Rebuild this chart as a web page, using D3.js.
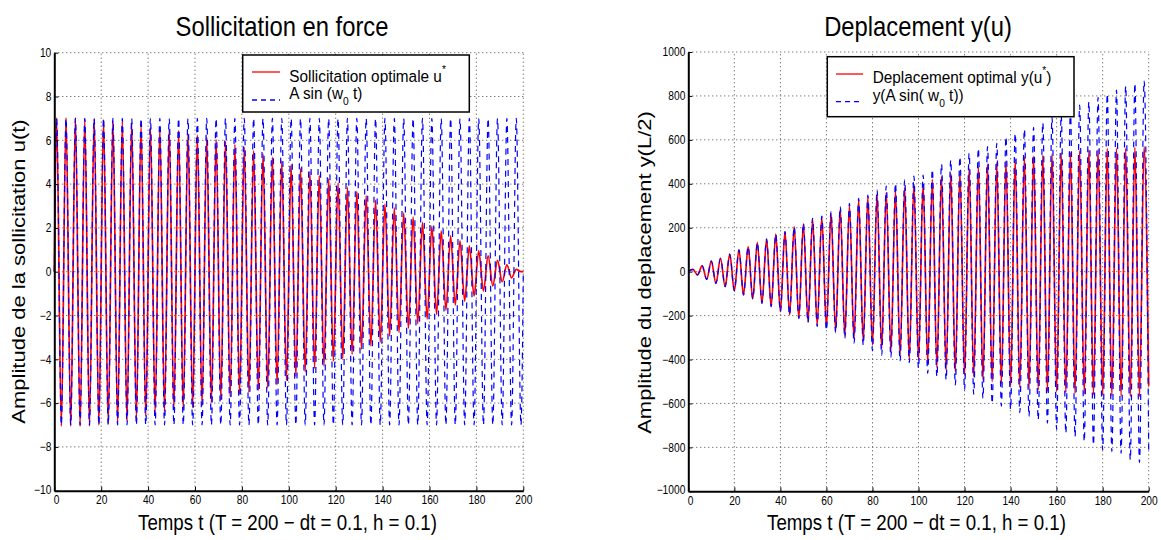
<!DOCTYPE html>
<html><head><meta charset="utf-8">
<script src="https://cdn.jsdelivr.net/npm/d3@7"></script>
<style>
html,body{margin:0;padding:0;background:#fff;}
text{font-family:"Liberation Sans",Arial,Helvetica,sans-serif;fill:#000;}
</style></head>
<body><svg id="fig" width="1161" height="540"></svg>
<script>
// ---------- DATA ----------
// Left panel: extrema of u*(t) and of A sin(w0 t), t in [0,200]
const leftPeakTimes   = d3.range(1, 200, 4);   // 1,5,...,197
const leftTroughTimes = d3.range(3, 200, 4);   // 3,7,...,199
const leftOptPeaks = [7.03,7.03,7.03,6.98,6.98,6.95,6.91,6.88,6.80,6.73,
  6.60,6.57,6.50,6.45,6.33,6.25,6.15,6.04,5.95,5.81,
  5.69,5.53,5.38,5.23,5.05,4.89,4.72,4.57,4.39,4.24,
  4.04,3.85,3.67,3.47,3.27,3.09,2.91,2.69,2.51,2.25,
  2.08,1.87,1.64,1.41,1.18,0.95,0.72,0.52,0.31,0.11];
const leftOptTroughs = [-7.05,-7.05,-7.05,-7.05,-7.00,-6.94,-6.90,-6.82,-6.70,-6.59,
  -6.48,-6.39,-6.28,-6.24,-6.21,-6.13,-5.98,-5.87,-5.72,-5.60,
  -5.52,-5.42,-5.30,-5.16,-4.97,-4.78,-4.57,-4.41,-4.31,-4.08,
  -3.96,-3.77,-3.54,-3.39,-3.20,-2.94,-2.78,-2.59,-2.37,-2.17,
  -1.95,-1.76,-1.52,-1.34,-1.11,-0.88,-0.65,-0.46,-0.28,0.00];
const leftRefPeaks = [7,7,7,7,7,7,7,7,7,7, 7,7,7,7,7,7,7,7,7,7, 7,7,7,7,7,7,7,7,7,7,
  7,7,7,7,7,7,7,7,7,7, 7,7,7,7,7,7,7,7,7,7];
const leftRefTroughs = [-7,-7,-7,-7,-7,-7,-7,-7,-7,-7, -7,-7,-7,-7,-7,-7,-7,-7,-7,-7,
  -7,-7,-7,-7,-7,-7,-7,-7,-7,-7, -7,-7,-7,-7,-7,-7,-7,-7,-7,-7, -7,-7,-7,-7,-7,-7,-7,-7,-7,-7];

// Right panel: extrema of the mid-span displacement y(L/2)
const rightPeakTimes   = d3.range(2, 200, 4);  // 2,6,...,198
const rightTroughTimes = d3.range(4, 201, 4);  // 4,8,...,200
const rightOptPeaks = [10,26,48,61,80,99,114,133,148,171,
  182,205,218,238,248,265,285,300,327,340,
  354,360,369,382,399,402,420,432,447,455,
  470,478,488,496,505,511,523,526,531,535,
  542,543,551,554,557,561,561,561,566,569];
const rightOptTroughs = [-15,-35,-53,-68,-87,-106,-124,-144,-159,-182,
  -197,-213,-228,-243,-255,-270,-290,-305,-318,-335,
  -350,-364,-380,-398,-405,-417,-436,-448,-455,-470,
  -478,-493,-501,-511,-520,-527,-534,-539,-546,-546,
  -551,-554,-557,-561,-561,-566,-566,-569,-569,-520];
const rightRefPeaks = [10,26,48,61,80,99,114,133,148,171,
  182,205,220,243,253,273,296,311,334,349,
  372,390,402,418,435,440,466,490,508,523,
  539,561,569,584,614,630,648,657,678,702,
  712,735,758,773,793,809,827,845,857,869];
const rightRefTroughs = [-15,-35,-53,-68,-87,-106,-124,-144,-159,-182,
  -197,-213,-232,-250,-266,-278,-304,-326,-334,-360,
  -380,-390,-408,-414,-440,-463,-478,-493,-516,-539,
  -558,-577,-600,-612,-627,-642,-660,-675,-690,-718,
  -736,-751,-774,-789,-812,-819,-827,-857,-869,-820];

const xTicks = [0,20,40,60,80,100,120,140,160,180,200];
const leftYTicks = [-10,-8,-6,-4,-2,0,2,4,6,8,10];
const rightYTicks = [-1000,-800,-600,-400,-200,0,200,400,600,800,1000];

const titles = ["Sollicitation en force", "Deplacement y(u)"];
const xLabel = "Temps t (T = 200 \u2212 dt = 0.1, h = 0.1)";
const yLabels = ["Amplitude de la sollicitation u(t)", "Amplitude du deplacement y(L/2)"];

// ---------- DRAW ----------
const svg = d3.select("#fig");
svg.append("rect").attr("width",1161).attr("height",540).attr("fill","#fff");
const SQ = 0.85;
const LSQ = 0.93;

function squeeze(sel){
  sel.each(function(){
    const w = this.getComputedTextLength();
    this.setAttribute("textLength", (w*SQ).toFixed(2));
    this.setAttribute("lengthAdjust","spacingAndGlyphs");
  });
}
function fmt(v){ return v < 0 ? "\u2212" + Math.abs(v) : String(v); }

function series(peakT, peakV, troughT, troughV, endPoint){
  const pts = [[0,0]];
  peakT.forEach((t,i)=>pts.push([t, peakV[i]]));
  troughT.forEach((t,i)=>pts.push([t, troughV[i]]));
  if (endPoint) pts.push(endPoint);
  pts.sort((a,b)=>a[0]-b[0]);
  return pts;
}

function panel(cfg){
  const x = d3.scaleLinear().domain([0,200]).range([cfg.x0, cfg.x1]);
  const y = d3.scaleLinear().domain(cfg.yDomain).range([cfg.yBot, cfg.yTop]);
  const g = svg.append("g");

  // grid
  const grid = g.append("g").attr("stroke","#444").attr("stroke-width",1)
     .attr("stroke-dasharray","1,3");
  cfg.xTicks.filter(v=>v!==0).forEach(v=>{
    grid.append("line").attr("x1",x(v)).attr("x2",x(v)).attr("y1",cfg.yBot).attr("y2",cfg.yTop);
  });
  cfg.yTicks.filter(v=>v!==cfg.yDomain[0]).forEach(v=>{
    grid.append("line").attr("x1",cfg.x0).attr("x2",cfg.x1).attr("y1",y(v)).attr("y2",y(v));
  });

  // lines
  const line = d3.line().x(d=>x(d[0])).y(d=>y(d[1])).curve(d3.curveMonotoneX);
  g.append("path").datum(cfg.opt).attr("d",line).attr("fill","none")
    .attr("stroke","#ff0000").attr("stroke-width",1.7);
  g.append("path").datum(cfg.ref).attr("d",line).attr("fill","none")
    .attr("stroke","#0000ff").attr("stroke-width",1.2).attr("stroke-dasharray","6,5");

  // axes
  const ax = g.append("g").attr("transform",`translate(0,${cfg.yBot})`)
    .call(d3.axisBottom(x).tickValues(cfg.xTicks).tickSizeInner(-4).tickSizeOuter(0).tickPadding(5).tickFormat(fmt));
  const ay = g.append("g").attr("transform",`translate(${cfg.x0},0)`)
    .call(d3.axisLeft(y).tickValues(cfg.yTicks).tickSizeInner(-4).tickSizeOuter(0).tickPadding(3).tickFormat(fmt));
  [ax, ay].forEach(a=>{
    a.select(".domain").attr("stroke","#000").attr("stroke-width",2);
    a.selectAll(".tick line").attr("stroke","#000").attr("stroke-width",1);
    a.selectAll(".tick text").attr("font-size",12)
      .attr("font-family","Liberation Sans, Arial, sans-serif").attr("fill","#000");
    squeeze(a.selectAll(".tick text"));
  });
  ax.selectAll(".tick text").filter(d=>d===0).attr("dx","0.15em");
  ay.selectAll(".tick text").filter(d=>d===cfg.yDomain[0]).attr("dy","0.2em");

  // title
  svg.append("g").attr("transform",`translate(${cfg.titleX},36) scale(${SQ},1)`)
    .append("text").attr("text-anchor","middle").attr("font-size",28).text(cfg.title);
  // x label
  svg.append("g").attr("transform",`translate(${cfg.xLabelX},530) scale(${SQ},1)`)
    .append("text").attr("text-anchor","middle").attr("font-size",22).text(xLabel);
  // y label
  svg.append("g").attr("transform",`translate(${cfg.yLabelX},${cfg.yLabelY}) rotate(-90) scale(1,${SQ})`)
    .append("text").attr("text-anchor","middle").attr("font-size",22).text(cfg.yLabel);

  // legend
  const L = cfg.legend;
  svg.append("rect").attr("x",L.x).attr("y",L.y).attr("width",L.w).attr("height",L.h)
    .attr("fill","#fff").attr("stroke","#000").attr("stroke-width",1.5);
  svg.append("line").attr("x1",L.lx0).attr("x2",L.lx1).attr("y1",L.ly1).attr("y2",L.ly1)
    .attr("stroke","#ff0000").attr("stroke-width",1.3);
  svg.append("line").attr("x1",L.lx0).attr("x2",L.lx1).attr("y1",L.ly2).attr("y2",L.ly2)
    .attr("stroke","#0000ff").attr("stroke-width",1.3).attr("stroke-dasharray","5,4");
  const t1 = svg.append("g").attr("transform",`translate(${L.tx},${L.b1}) scale(${LSQ},1)`)
    .append("text").attr("font-size",16.5);
  t1.append("tspan").text(L.line1[0]);
  t1.append("tspan").attr("font-size",11).attr("dy",-9).text("*");
  if (L.line1[1]) t1.append("tspan").attr("dy",9).text(L.line1[1]);
  const t2 = svg.append("g").attr("transform",`translate(${L.tx},${L.b2}) scale(${LSQ},1)`)
    .append("text").attr("font-size",16.5);
  t2.append("tspan").text(L.line2[0]);
  t2.append("tspan").attr("font-size",11).attr("dy",6).text("0");
  t2.append("tspan").attr("dy",-6).text(L.line2[1]);
}

panel({
  x0:54.3, x1:523.3, yTop:52.7, yBot:490.7, yDomain:[-10,10],
  xTicks:xTicks, yTicks:leftYTicks,
  opt: series(leftPeakTimes, leftOptPeaks, leftTroughTimes, leftOptTroughs, [200,0]),
  ref: series(leftPeakTimes, leftRefPeaks, leftTroughTimes, leftRefTroughs, [200,0]),
  title:titles[0], titleX:282, xLabelX:287.5,
  yLabel:yLabels[0], yLabelX:25, yLabelY:271.5,
  legend:{x:242.7,y:55,w:226.6,h:57, lx0:252,lx1:280, ly1:72, ly2:100, tx:289.3, b1:81.5, b2:99,
    line1:["Sollicitation optimale u",""], line2:["A sin (w"," t)"]}
});
panel({
  x0:688.3, x1:1148.7, yTop:52, yBot:491.3, yDomain:[-1000,1000],
  xTicks:xTicks, yTicks:rightYTicks,
  opt: series(rightPeakTimes, rightOptPeaks, rightTroughTimes, rightOptTroughs, null),
  ref: series(rightPeakTimes, rightRefPeaks, rightTroughTimes, rightRefTroughs, null),
  title:titles[1], titleX:918, xLabelX:916.5,
  yLabel:yLabels[1], yLabelX:651, yLabelY:272.5,
  legend:{x:827.3,y:56.7,w:246.7,h:60, lx0:836,lx1:863, ly1:74, ly2:101.7, tx:872.7, b1:83, b2:100.5,
    line1:["Deplacement optimal y(u",")"], line2:["y(A sin( w"," t))"]}
});
</script></body></html>
